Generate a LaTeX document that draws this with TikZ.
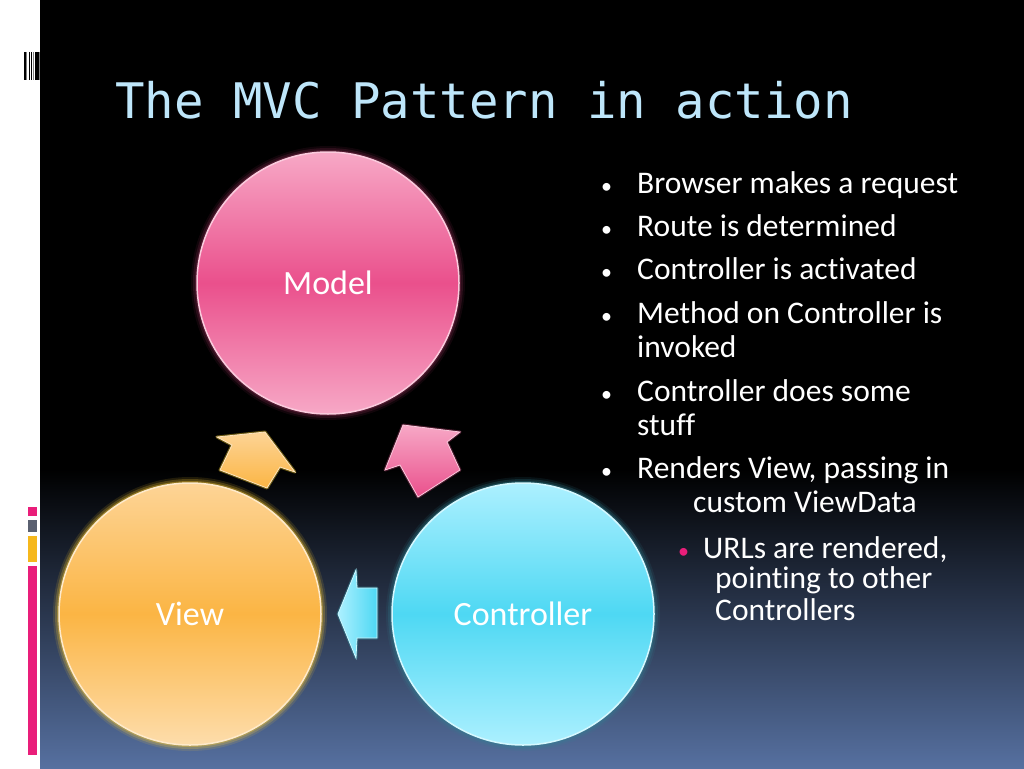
\documentclass[tikz,border=0pt]{standalone}
\usepackage{fontspec}
\setmainfont{Carlito}[Ligatures=NoCommon]
\newfontfamily\titlefont{DejaVu Sans Mono}
\usetikzlibrary{positioning}
\definecolor{titleblue}{RGB}{190,230,250}
\definecolor{pinkmid}{RGB}{234,80,140}
\definecolor{pinklight}{RGB}{247,168,198}
\definecolor{orangemid}{RGB}{251,181,68}
\definecolor{orangelight}{RGB}{253,212,150}
\definecolor{cyanmid}{RGB}{78,216,243}
\definecolor{cyanlight}{RGB}{172,240,255}
\definecolor{bgblue}{RGB}{86,112,160}
\definecolor{barpink}{RGB}{233,30,122}
\definecolor{bargray}{RGB}{90,96,112}
\definecolor{barorange}{RGB}{246,184,28}

\begin{document}
\begin{tikzpicture}[x=1pt,y=-1pt,
  bubble/.style={circle,minimum size=262pt,inner sep=0pt,text=white,
    font=\fontsize{34}{38}\selectfont},
  item/.style={anchor=base west,inner sep=0pt,text=white,
    font=\fontsize{31.5}{34}\selectfont},
  dot/.style={anchor=base west,inner sep=0pt,text=white,
    font=\fontsize{22}{34}\selectfont}]
\useasboundingbox (0,0) rectangle (1024,768);
% page
\fill[white] (0,0) rectangle (1024,768);
\fill[black] (40,0) rectangle (1024,470);
\shade[top color=black,bottom color=bgblue] (40,469) rectangle (1024,768);
% barcode and side bars
\foreach \x/\c in {25/black,26.8/gray,29.3/black,31.7/black,33.4/gray,36/black,38/black,39.4/gray}
  \draw[\c,line width=1.1pt] (\x,52) -- (\x,80);
\fill[barpink] (28,507) rectangle (37,516);
\fill[bargray] (28,520) rectangle (37,532);
\fill[barorange] (28,536) rectangle (37,562);
\fill[barpink] (28,566) rectangle (37,755);
% title
\node[anchor=base west,inner sep=0pt,text=titleblue,
  font=\titlefont\fontsize{49}{56}\selectfont] (title) at (115,118) {The MVC Pattern in action};
% glows
\foreach \r/\o in {137/0.12,135/0.22,133/0.35} {
  \fill[pinkmid!60!black,opacity=\o] (328,283) circle (\r);
  \fill[orangemid!70!yellow,opacity=\o] (190,614) circle (\r);
  \fill[cyanmid!60!black,opacity=\o] (523,614) circle (\r);
}
% circles
\node[bubble,draw=pinklight!60!white,line width=1.5pt,top color=pinklight,bottom color=pinklight,
  middle color=pinkmid] (model) at (328,283) {Model};
\node[bubble,draw=orangelight!50!white,line width=1.5pt,top color=orangelight,bottom color=orangelight!80!white,
  middle color=orangemid] (view) at (190,614) {View};
\node[bubble,draw=cyanlight!50!white,line width=1.5pt,top color=cyanlight,bottom color=cyanlight,
  middle color=cyanmid] (ctrl) at (523,614) {Controller};
% block arrows
\draw[orangemid!60!yellow,line width=3pt,opacity=0.4,line join=round]
  (265,432) -- (295,472) -- (280,467) -- (267,488) -- (220,470) -- (232,445) -- (217,437) -- cycle;
\shade[top color=orangelight,bottom color=orangemid,draw=orangelight!60!white,line width=0.8pt]
  (265,432) -- (295,472) -- (280,467) -- (267,488) -- (220,470) -- (232,445) -- (217,437) -- cycle;
\draw[pinkmid!60!black,line width=3pt,opacity=0.5,line join=round]
  (403,425) -- (460,432) -- (447,442) -- (460,470) -- (418,497) -- (400,465) -- (385,470) -- cycle;
\shade[top color=pinklight,bottom color=pinkmid,draw=pinklight!60!white,line width=0.8pt]
  (403,425) -- (460,432) -- (447,442) -- (460,470) -- (418,497) -- (400,465) -- (385,470) -- cycle;
\draw[cyanmid!60!black,line width=3pt,opacity=0.5,line join=round]
  (338,614) -- (356,570) -- (357,588) -- (377,588) -- (377,638) -- (357,638) -- (356,658) -- cycle;
\shade[left color=cyanlight,right color=cyanmid,draw=cyanlight!60!white,line width=0.8pt]
  (338,614) -- (356,570) -- (357,588) -- (377,588) -- (377,638) -- (357,638) -- (356,658) -- cycle;
% bullets
\foreach \y [count=\i] in {193,236,279,323,401,478}
  \node[dot] (d\i) at (601,\y) {•};
\node[item] (b1) at (637,193) {Browser makes a request};
\node[item] (b2) at (637,236) {Route is determined};
\node[item] (b3) at (637,279) {Controller is activated};
\node[item] (b4) at (637,323) {Method on Controller is};
\node[item] (b4a) at (637,357) {invoked};
\node[item] (b5) at (637,401) {Controller does some};
\node[item] (b5a) at (637,435) {stuff};
\node[item] (b6) at (637,478) {Renders View, passing in};
\node[item] (b6a) at (693,512) {custom ViewData};
\node[dot,text=barpink] (sd) at (678,558) {•};
\node[item] (s1) at (703,558) {URLs are rendered,};
\node[item] (s1a) at (715,588) {pointing to other};
\node[item] (s1b) at (715,620) {Controllers};
\end{tikzpicture}
\end{document}
